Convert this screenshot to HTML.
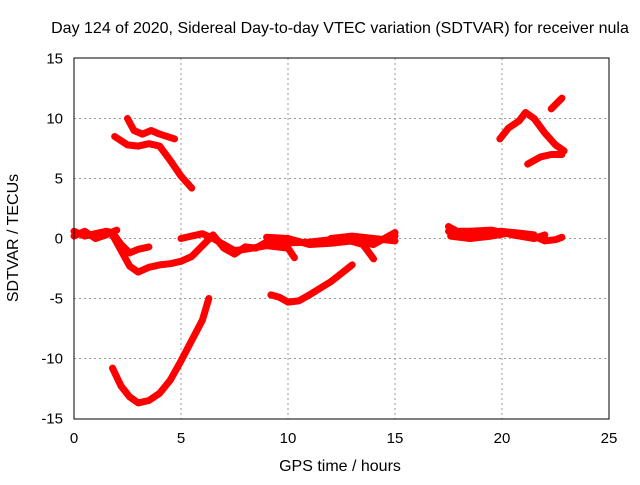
<!DOCTYPE html>
<html><head><meta charset="utf-8"><style>
body{margin:0;background:#fff}
svg text{font-family:"Liberation Sans",sans-serif;font-size:15px;fill:#000}
svg text.big{font-size:16px}
</style></head><body>
<svg width="640" height="480" xmlns="http://www.w3.org/2000/svg">
<g id="grid"></g>
<g id="series"></g>
<rect x="74" y="58" width="535" height="361" fill="none" stroke="#000" stroke-width="1"/>
<g id="ticks"></g>
<text class="big" x="340" y="33" text-anchor="middle">Day 124 of 2020, Sidereal Day-to-day VTEC variation (SDTVAR) for receiver nula</text>
<text class="big" x="340" y="471" text-anchor="middle">GPS time / hours</text>
<text class="big" x="18" y="238" text-anchor="middle" transform="rotate(-90 18 238)">SDTVAR / TECUs</text>
</svg>
<script>
const xTicks=[0,5,10,15,20,25];
const yTicks=[-15,-10,-5,0,5,10,15];
const segA=[[0,0.6],[0.5,0.2],[1,0.4],[1.5,0.6],[1.8,0.5],[2.2,-0.5],[2.6,-1.2],[3,-0.9],[3.5,-0.7]];
const segB=[[1.8,0.3],[2.2,-1],[2.6,-2.3],[3,-2.8],[3.5,-2.4],[4,-2.2],[4.5,-2.1],[5,-1.9],[5.5,-1.5],[6,-0.6],[6.5,0.3],[7,-0.8],[7.5,-1.3],[8,-0.7],[8.5,-0.8],[9,-0.3],[9.5,0],[10,-0.2]];
const segC=[[5,0],[5.5,0.2],[6,0.4],[6.5,0],[7,-0.5],[7.5,-1],[8,-0.9],[9,-0.6],[10,-0.8],[10.3,-1.6]];
const segD=[[9,0.1],[10,0],[11,-0.5],[12,-0.4],[13,-0.2],[14,-0.5],[15,0.5]];
const segE=[[9.5,-0.4],[11,-0.3],[12.5,0],[13.5,-0.5],[14,-1.7]];
const segF=[[12,0],[13,0.2],[14,0],[15,-0.2]];
const segG=[[2.5,10],[2.8,9],[3.2,8.7],[3.6,9],[4,8.7],[4.7,8.3]];
const segH=[[1.9,8.5],[2.5,7.8],[3,7.7],[3.5,7.9],[4,7.7],[4.5,6.5],[5,5.2],[5.5,4.2]];
const segI=[[1.8,-10.8],[2.2,-12.3],[2.6,-13.2],[3,-13.7],[3.5,-13.5],[4,-12.9],[4.5,-11.8],[5,-10.2],[5.5,-8.5],[6,-6.8],[6.3,-5]];
const segJ=[[9.2,-4.7],[9.6,-4.9],[10,-5.3],[10.5,-5.2],[11,-4.7],[12,-3.6],[13,-2.2]];
const segK=[[17.5,1],[18,0.5],[19,0.5],[20,0.6],[21,0.4],[21.5,0.2],[22,-0.2],[22.5,-0.1],[22.8,0.1]];
const segL=[[17.6,0.2],[18.5,0],[19.5,0.2],[20.5,0.5],[21.5,0.3]];
const segM=[[19.9,8.3],[20.3,9.2],[20.8,9.8],[21.1,10.5],[21.5,10],[22,8.8],[22.5,7.8],[22.9,7.3]];
const segN=[[21.2,6.2],[21.8,6.8],[22.3,7],[22.8,7]];
const segO=[[22.3,10.8],[22.8,11.7]];
const segP=[[0,0.2],[0.5,0.6],[1,0],[1.5,0.3],[2,0.7]];
const segQ=[[17.5,0.6],[18.5,0.6],[19.5,0.7],[20.5,0.3],[21.5,0],[22,0.3]];
const segR=[[13,0],[14,-0.3],[15,0.2]];
const segments=[segA,segB,segC,segD,segE,segF,segG,segH,segI,segJ,segK,segL,segM,segN,segO,segP,segQ,segR];
const NS="http://www.w3.org/2000/svg";
function sx(v){return 74+v*(535/25);}
function sy(v){return 238.5-v*12;}
const grid=document.getElementById('grid'),ticks=document.getElementById('ticks'),ser=document.getElementById('series');
function mk(tag,a,p){const e=document.createElementNS(NS,tag);for(const k in a)e.setAttribute(k,a[k]);p.appendChild(e);return e;}
xTicks.forEach(t=>{
  const x=sx(t);
  if(t>0&&t<25){const g=mk('line',{x1:x,y1:58,x2:x,y2:419,stroke:'#999','stroke-dasharray':'2,3'},grid);
  
  }
  const l=mk('text',{x:x,y:443,'text-anchor':'middle'},ticks);l.textContent=t;
  
  
});
yTicks.forEach(t=>{
  const y=sy(t);
  if(t>-15&&t<15){const g=mk('line',{x1:74,y1:y,x2:609,y2:y,stroke:'#999','stroke-dasharray':'2,3'},grid);
  
  }
  const l=mk('text',{x:63,y:y+5,'text-anchor':'end'},ticks);l.textContent=t;
  
  
});
segments.forEach(s=>{
  const p=mk('polyline',{points:s.map(d=>sx(d[0])+','+sy(d[1])).join(' '),fill:'none',stroke:'#f00','stroke-width':7,'stroke-linejoin':'round','stroke-linecap':'round'},ser);
  
  
});
</script>
</body></html>
